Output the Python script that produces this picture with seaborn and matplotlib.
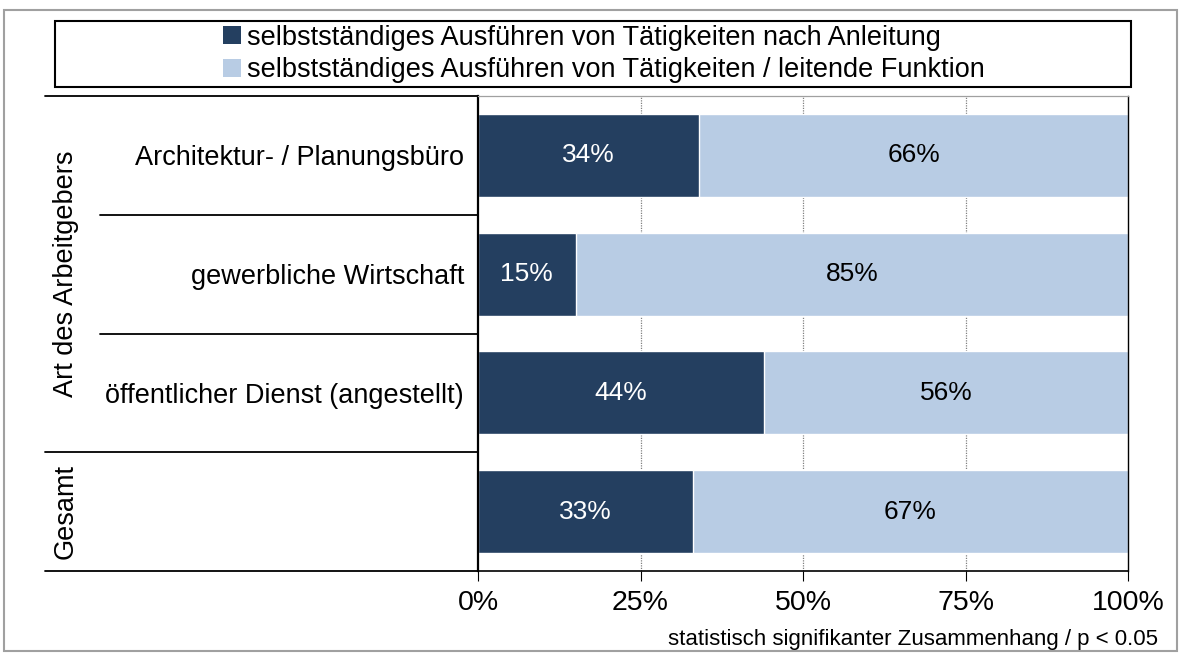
import matplotlib
matplotlib.use("Agg")
import matplotlib.pyplot as plt
import matplotlib.transforms as mtransforms
from matplotlib.patches import Rectangle, Patch
import seaborn as sns
import pandas as pd

# Daten aus der Grafik
kategorien = ["Architektur- / Planungsbüro", "gewerbliche Wirtschaft",
              "öffentlicher Dienst (angestellt)", "Gesamt"]
nach_anleitung = [34, 15, 44, 33]
leitende_funktion = [66, 85, 56, 67]
serien = ["selbstständiges Ausführen von Tätigkeiten nach Anleitung",
          "selbstständiges Ausführen von Tätigkeiten / leitende Funktion"]
x_ticks = [0, 25, 50, 75, 100]
gruppe_label = "Art des Arbeitgebers"
fussnote = "statistisch signifikanter Zusammenhang / p < 0.05"

dunkel = "#243F60"
hell = "#B8CCE4"

sns.set_theme(style="white")
plt.rcParams["font.family"] = ["Liberation Sans", "DejaVu Sans"]
plt.rcParams["text.color"] = "black"
plt.rcParams["xtick.color"] = "black"
plt.rcParams["ytick.color"] = "black"

df = pd.DataFrame({
    "kategorie": kategorien,
    "dunkel": nach_anleitung,
    "hell": leitende_funktion,
})
df["gesamt"] = df["dunkel"] + df["hell"]

W, H = 1179, 655
fig = plt.figure(figsize=(W / 100, H / 100), dpi=100)
ax = fig.add_axes([478 / W, 1 - 571 / H, 650 / W, 475 / H])

# gestapelte Balken: erst die Summe (hell), dann der dunkle Anteil darüber
sns.barplot(data=df, x="gesamt", y="kategorie", orient="h", color=hell,
            saturation=1, width=0.7, ax=ax)
sns.barplot(data=df, x="dunkel", y="kategorie", orient="h", color=dunkel,
            saturation=1, width=0.7, ax=ax)

for i, (d, h) in enumerate(zip(df["dunkel"], df["hell"])):
    ax.text(d / 2, i, f"{d}%", ha="center", va="center", color="white", fontsize=19)
    ax.text(d + h / 2, i, f"{h}%", ha="center", va="center", color="black", fontsize=19)

ax.set_xlim(0, 100)
ax.set_ylim(3.5, -0.5)
ax.set_xticks(x_ticks)
ax.set_xticklabels([f"{t}%" for t in x_ticks], fontsize=20.5)
ax.set_yticks(range(len(kategorien)))
ax.set_yticklabels(kategorien[:3] + [""], fontsize=19.5)
ax.set_xlabel("")
ax.set_ylabel("")
ax.tick_params(axis="x", direction="out", length=7, width=0.8,
               bottom=True, pad=7)
ax.tick_params(axis="y", length=0, pad=10)

for t in [25, 50, 75]:
    ax.axvline(t, color="#808080", lw=0.9, ls=(0, (1, 1)), zorder=0)

ax.spines["left"].set_color("black")
ax.spines["left"].set_linewidth(1.6)
ax.spines["bottom"].set_color("black")
ax.spines["bottom"].set_linewidth(1.2)
ax.spines["right"].set_color("black")
ax.spines["right"].set_linewidth(1.0)
ax.spines["top"].set_color("#A0A0A0")
ax.spines["top"].set_linewidth(0.9)

# Trennlinien links neben der Achse
trans = mtransforms.blended_transform_factory(ax.transAxes, ax.transData)
x_aussen = (45 - 478) / 650
x_innen = (100 - 478) / 650
for y, x0 in [(-0.5, x_aussen), (0.5, x_innen), (1.5, x_innen), (2.5, x_aussen), (3.5, x_aussen)]:
    ax.plot([x0, 0], [y, y], color="black", lw=1.3, transform=trans, clip_on=False)

x_gruppe = (66 - 478) / 650
ax.text(x_gruppe, 1, gruppe_label, rotation=90, ha="center", va="center",
        fontsize=19.5, transform=trans)
ax.text(x_gruppe, 3, kategorien[3], rotation=90, ha="center", va="center",
        fontsize=19.5, transform=trans)

# Rahmen und Legende
fig.patches.append(Rectangle((4 / W, 1 - 651 / H), 1173 / W, 641 / H,
                             transform=fig.transFigure, fill=False,
                             edgecolor="#A0A0A0", lw=1.5))
fig.patches.append(Rectangle((55 / W, 1 - 87 / H), 1076 / W, 66 / H,
                             transform=fig.transFigure, fill=False,
                             edgecolor="black", lw=1.5))
handles = [Patch(facecolor=dunkel, edgecolor="none"), Patch(facecolor=hell, edgecolor="none")]
fig.legend(handles, serien, loc="center", bbox_to_anchor=(604 / W, 1 - 54 / H),
           frameon=False, fontsize=19.5, handlelength=0.65, handleheight=0.65,
           handletextpad=0.25, labelspacing=0.25, borderpad=0)

fig.text(1158 / W, 1 - 640 / H, fussnote, ha="right", va="center", fontsize=16)

fig.savefig("out.png", dpi=100)
